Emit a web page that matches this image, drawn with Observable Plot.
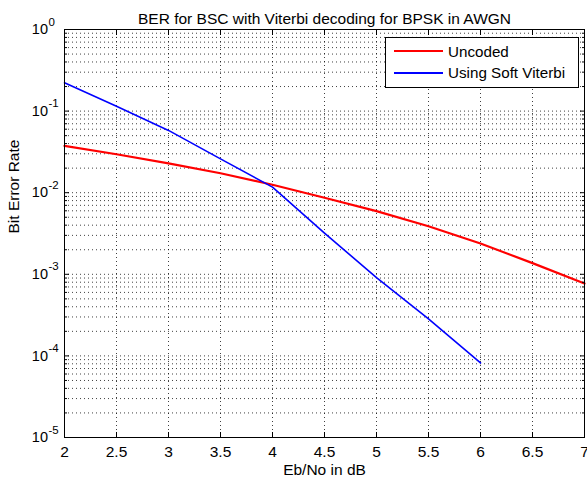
<!DOCTYPE html>
<html><head><meta charset="utf-8">
<script src="https://cdn.jsdelivr.net/npm/d3@7"></script>
<script src="https://cdn.jsdelivr.net/npm/@observablehq/plot@0.6"></script>
<style>
body{margin:0;background:#fff;}
#wrap{position:relative;width:587px;height:485px;font-family:"Liberation Sans",Arial,sans-serif;}
#legend{position:absolute;left:385px;top:37px;width:194px;height:51px;border:1px solid #000;background:#fff;box-sizing:border-box;font-size:15.2px;color:#000;}
.row{position:absolute;left:8px;height:18px;display:flex;align-items:center;}
.sw{display:inline-block;width:49px;height:2px;margin-right:5px;}
</style></head><body><div id="wrap"></div>
<script>
const titleText = "BER for BSC with Viterbi decoding for BPSK in AWGN";
const xLabelText = "Eb/No in dB";
const yLabelText = "Bit Error Rate";
const seriesNames = ["Uncoded", "Using Soft Viterbi"];
const seriesColors = ["#ff0000", "#0000ff"];

const ebnoUncoded = [2, 2.5, 3, 3.5, 4, 4.5, 5, 5.5, 6, 6.5, 7];
const berUncoded = [0.0375, 0.0296, 0.0229, 0.0173, 0.0125, 0.00867, 0.00595, 0.00388, 0.00239, 0.00137, 0.00077];
const ebnoSoft = [2, 2.5, 3, 3.5, 4, 4.5, 5, 5.5, 6];
const berSoft = [0.222, 0.115, 0.058, 0.026, 0.0117, 0.0032, 0.00091, 0.000285, 0.000082];

const xTicks = [2, 2.5, 3, 3.5, 4, 4.5, 5, 5.5, 6, 6.5, 7];
const xTickLabels = ["2", "2.5", "3", "3.5", "4", "4.5", "5", "5.5", "6", "6.5", "7"];
const yDecades = [1e-5, 1e-4, 1e-3, 1e-2, 1e-1, 1];
const yExponents = ["-5", "-4", "-3", "-2", "-1", "0"];
const minorMultipliers = [2, 3, 4, 5, 6, 7, 8, 9];

const yMinor = [];
for (const d of yDecades.slice(0, -1)) for (const m of minorMultipliers) yMinor.push(m * d);

const uncoded = ebnoUncoded.map((x, i) => ({x, y: berUncoded[i]}));
const soft = ebnoSoft.map((x, i) => ({x, y: berSoft[i]}));

const grid = {stroke: "#000", strokeOpacity: 0.75, strokeDasharray: "1,3", strokeWidth: 1};
const blank = () => "";
const fs = 15.5;

const chart = Plot.plot({
  width: 587, height: 485,
  marginLeft: 64, marginRight: 3, marginTop: 29, marginBottom: 48,
  style: {fontFamily: "'Liberation Sans', Arial, sans-serif", fontSize: "15px", background: "#fff", color: "#000"},
  x: {domain: [2, 7]},
  y: {type: "log", domain: [1e-5, 1]},
  marks: [
    Plot.ruleX(xTicks.slice(1, -1), grid),
    Plot.ruleY(yDecades.slice(1, -1).concat(yMinor.filter(v => v > 1e-5)), grid),
    Plot.line(uncoded, {x: "x", y: "y", stroke: seriesColors[0], strokeWidth: 2.2}),
    Plot.line(soft, {x: "x", y: "y", stroke: seriesColors[1], strokeWidth: 1.6}),
    Plot.frame({stroke: "#000"}),
    // inward ticks
    Plot.axisX({anchor: "bottom", ticks: xTicks, tickSize: -5, tickFormat: blank, label: null}),
    Plot.axisX({anchor: "top", ticks: xTicks, tickSize: -5, tickFormat: blank, label: null}),
    Plot.axisY({anchor: "left", ticks: yDecades, tickSize: -5, tickFormat: blank, label: null}),
    Plot.axisY({anchor: "right", ticks: yDecades, tickSize: -5, tickFormat: blank, label: null}),
    Plot.axisY({anchor: "left", ticks: yMinor, tickSize: -3, tickFormat: blank, label: null}),
    Plot.axisY({anchor: "right", ticks: yMinor, tickSize: -3, tickFormat: blank, label: null}),
    // x tick labels
    Plot.axisX({anchor: "bottom", ticks: xTicks, tickSize: 0, tickPadding: 8, fontSize: fs,
      tickFormat: (d) => xTickLabels[xTicks.indexOf(d)], label: null}),
    // y tick labels 10^k
    Plot.text(yDecades, {y: d => d, text: () => "10", frameAnchor: "left", textAnchor: "end", dx: -16.5, dy: 0, fontSize: 14.5}),
    Plot.text(yDecades, {y: d => d, text: (d, i) => yExponents[i], frameAnchor: "left", textAnchor: "start", dx: -16, dy: -7.5, fontSize: 11.5}),
    // title and labels
    Plot.text([titleText], {frameAnchor: "top", dy: -17, fontSize: fs}),
    Plot.text([xLabelText], {frameAnchor: "bottom", dy: 37, fontSize: fs}),
    Plot.text([yLabelText], {frameAnchor: "left", dx: -50, rotate: -90, fontSize: fs})
  ]
});

const wrap = document.getElementById("wrap");
wrap.appendChild(chart);

const legend = document.createElement("div");
legend.id = "legend";
seriesNames.forEach((name, i) => {
  const row = document.createElement("div");
  row.className = "row";
  row.style.top = (4 + i * 21.5) + "px";
  const sw = document.createElement("span");
  sw.className = "sw";
  sw.style.background = seriesColors[i];
  const t = document.createElement("span");
  t.textContent = name;
  row.appendChild(sw); row.appendChild(t);
  legend.appendChild(row);
});
wrap.appendChild(legend);
</script>
</body></html>
